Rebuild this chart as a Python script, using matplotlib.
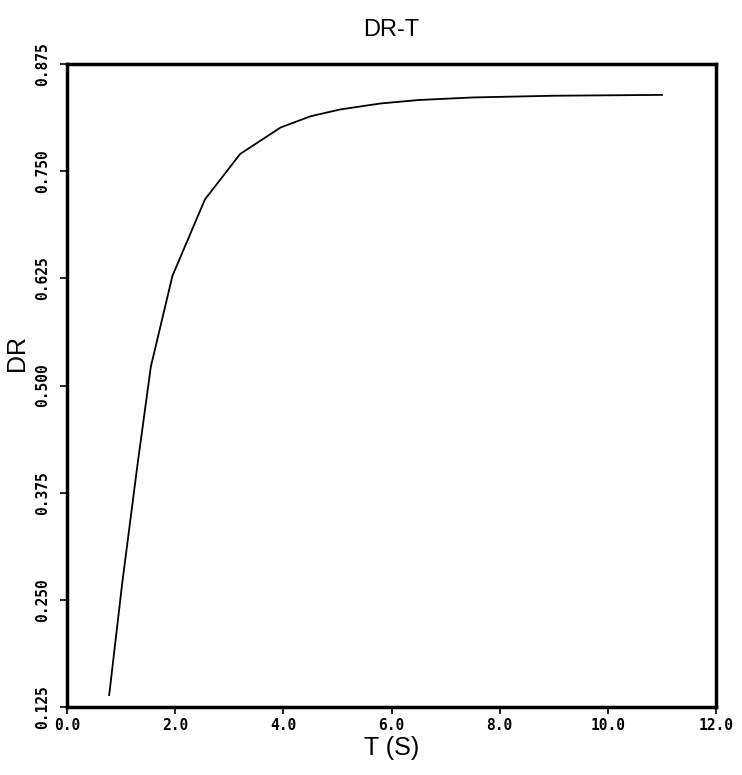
import matplotlib
matplotlib.use('Agg')
import matplotlib.pyplot as plt
import numpy as np

# values
t_vals = [0.78, 1.02, 1.30, 1.55, 1.95, 2.55, 3.20, 3.95, 4.50, 5.05, 5.80, 6.50, 7.50, 9.00, 11.00]
dr_vals = [0.139, 0.269, 0.406, 0.522, 0.628, 0.717, 0.770, 0.801, 0.814, 0.822, 0.829, 0.833, 0.836, 0.838, 0.839]

x_ticks = [0, 2, 4, 6, 8, 10, 12]
y_ticks = [0.125, 0.250, 0.375, 0.500, 0.625, 0.750, 0.875]

fig = plt.figure(figsize=(7.42, 7.75), dpi=100)
ax = fig.add_axes([0.0903, 0.0877, 0.8747, 0.8297])

ax.plot(t_vals, dr_vals, color='black', linewidth=1.3)

ax.set_xlim(0, 12)
ax.set_ylim(0.125, 0.875)
ax.set_xticks(x_ticks)
ax.set_yticks(y_ticks)
ax.set_xticklabels(['{:.1f}'.format(v) for v in x_ticks], family='DejaVu Sans Mono',
                   fontsize=10.5, fontweight='bold')
ax.set_yticklabels(['{:.3f}'.format(v) for v in y_ticks], family='DejaVu Sans Mono',
                   fontsize=10.5, fontweight='bold', rotation=90, va='center')

for s in ax.spines.values():
    s.set_linewidth(2.5)
ax.tick_params(axis='x', direction='out', length=5, width=1.2, pad=3)
ax.tick_params(axis='y', direction='out', length=5, width=1.2, pad=7)

ax.set_title('DR-T', fontsize=17, pad=20, family='Liberation Sans')
ax.set_xlabel('T (S)', fontsize=18, family='Liberation Sans', labelpad=2)
ax.set_ylabel('DR', fontsize=18, family='Liberation Sans')
ax.yaxis.set_label_coords(-0.058, 0.55)

fig.savefig('out.png', dpi=100)
